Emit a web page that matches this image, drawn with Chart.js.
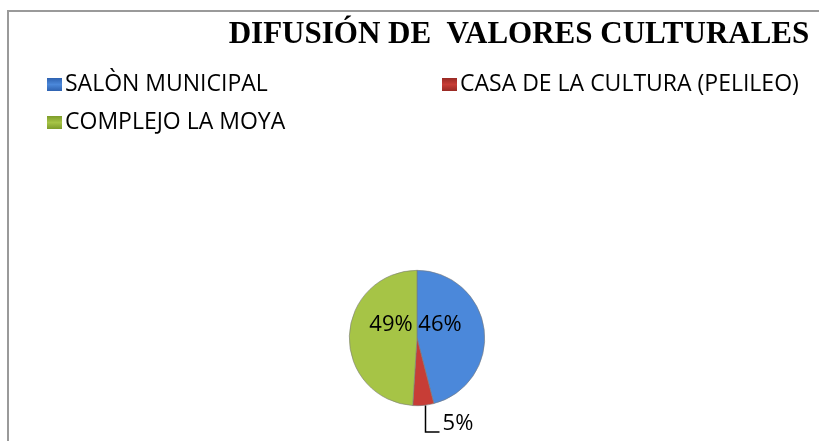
<!DOCTYPE html>
<html lang="es">
<head>
  <meta charset="UTF-8">
  <title>Difusión de valores culturales</title>
  <script src="https://cdn.jsdelivr.net/npm/chart.js"></script>
  <style>
    html, body { margin: 0; padding: 0; background: #fff; }
    #wrap { position: relative; width: 819px; height: 441px; }
  </style>
</head>
<body>
<div id="wrap"><canvas id="myChart" width="819" height="441"></canvas></div>
<script>
  // data
  const chartTitle = 'DIFUSIÓN DE  VALORES CULTURALES';
  const categories = ['SALÒN MUNICIPAL', 'CASA DE LA CULTURA (PELILEO)', 'COMPLEJO LA MOYA'];
  const percentValues = [46, 5, 49];
  const percentLabels = ['46%', '5%', '49%'];

  const sliceColors = ['#4b88da', '#c73d36', '#a6c446'];
  const sliceDark = ['#2e62b0', '#982a24', '#7d9c2a'];

  // label offsets from pie centre (x, y), in pixels
  const labelOffsets = [[23, -13], [41, 86], [-26, -13]];

  // frame, title, legend, labels
  const decorPlugin = {
    id: 'decor',
    beforeDraw(chart) {
      const ctx = chart.ctx;
      ctx.save();
      ctx.strokeStyle = '#9a9a9a';
      ctx.lineWidth = 2;
      ctx.strokeRect(8, 11, 830, 450);

      ctx.fillStyle = '#000';
      ctx.font = 'bold 31px "Liberation Serif"';
      ctx.textAlign = 'center';
      ctx.textBaseline = 'alphabetic';
      ctx.fillText(chartTitle, 519, 43);

      // legend, two columns
      const spots = [[47, 83], [442, 83], [47, 121]];
      ctx.font = '23px "Open Sans"';
      ctx.textAlign = 'left';
      ctx.textBaseline = 'middle';
      categories.forEach((name, i) => {
        const [x, y] = spots[i];
        const g = ctx.createLinearGradient(0, y - 5, 0, y + 8);
        g.addColorStop(0, sliceDark[i]);
        g.addColorStop(0.5, sliceColors[i]);
        g.addColorStop(1, sliceDark[i]);
        ctx.fillStyle = g;
        ctx.fillRect(x, y - 5, 15, 13);
        ctx.fillStyle = '#000';
        ctx.fillText(name, x + 18, y + 1);
      });
      ctx.restore();
    },
    afterDraw(chart) {
      const ctx = chart.ctx;
      const arcs = chart.getDatasetMeta(0).data;
      const cx = arcs[0].x, cy = arcs[0].y;
      ctx.save();
      ctx.fillStyle = '#000';
      ctx.font = '22px "Open Sans"';
      ctx.textAlign = 'center';
      ctx.textBaseline = 'middle';
      percentLabels.forEach((txt, i) => {
        ctx.fillText(txt, cx + labelOffsets[i][0], cy + labelOffsets[i][1]);
      });
      // leader line for the small slice
      const a = arcs[1];
      const mid = (a.startAngle + a.endAngle) / 2;
      const sx = Math.round(cx + Math.cos(mid) * a.outerRadius) + 2.5;
      const sy = cy + Math.sin(mid) * a.outerRadius;
      ctx.strokeStyle = '#000';
      ctx.lineWidth = 1.5;
      ctx.beginPath();
      ctx.moveTo(sx, sy);
      ctx.lineTo(sx, cy + 94);
      ctx.lineTo(sx + 14, cy + 94);
      ctx.stroke();
      ctx.restore();
    }
  };

  // soft radial shading like the glossy office pie
  function sliceFill(c) {
    const chart = c.chart;
    const arc = chart.getDatasetMeta(0).data[c.dataIndex];
    if (!arc || !arc.outerRadius) return sliceColors[c.dataIndex];
    const g = chart.ctx.createRadialGradient(arc.x, arc.y, 0, arc.x, arc.y, arc.outerRadius);
    g.addColorStop(0, sliceColors[c.dataIndex]);
    g.addColorStop(0.85, sliceColors[c.dataIndex]);
    g.addColorStop(1, sliceDark[c.dataIndex]);
    return g;
  }

  const ctx = document.getElementById('myChart').getContext('2d');
  new Chart(ctx, {
    type: 'pie',
    data: {
      labels: categories,
      datasets: [{
        data: percentValues,
        backgroundColor: sliceFill,
        borderColor: '#7a7a7a',
        borderWidth: 0.6,
      }],
    },
    options: {
      responsive: false,
      animation: false,
      layout: { padding: { left: 349, right: 334, top: 270, bottom: 35 } },
      plugins: {
        legend: { display: false },
        title: { display: false },
        tooltip: { enabled: false },
      },
    },
    plugins: [decorPlugin],
  });
</script>
</body>
</html>
